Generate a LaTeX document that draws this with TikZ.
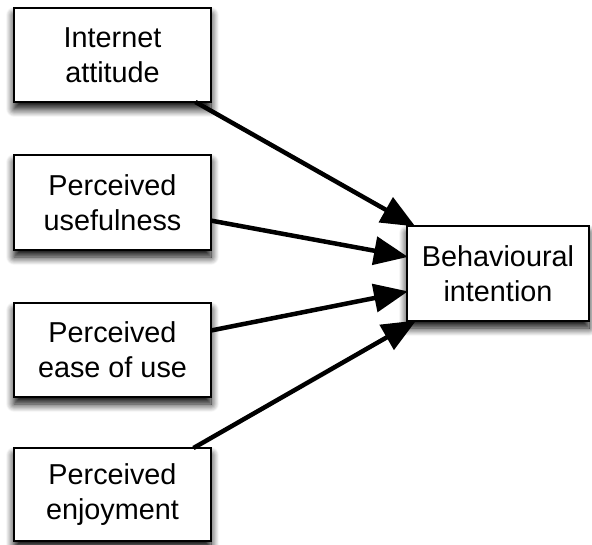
\documentclass[tikz,border=0pt]{standalone}
\usepackage{fontspec}
\setmainfont{Liberation Sans}
\usetikzlibrary{arrows.meta,shadows.blur}

\begin{document}
\begin{tikzpicture}[x=1pt,y=-1pt,
  factor/.style={draw=black, line width=1.6pt, fill=white, align=center,
    inner sep=0pt, outer sep=0pt,
    font=\fontsize{28.8}{35}\selectfont,
    blur shadow={shadow xshift=0pt, shadow yshift=-7pt,
      shadow blur radius=8pt, shadow opacity=100, shadow blur steps=14}},
  link/.style={line width=4.5pt, -{Triangle[length=34pt,width=28pt]}, shorten >=-1pt}]
  \useasboundingbox (0,0) rectangle (592,545);

  % predictor boxes on the left
  \node[factor, minimum width=197pt, minimum height=94pt] (att) at (112.5,55) {Internet\\attitude};
  \node[factor, minimum width=197pt, minimum height=95pt] (use) at (112.5,202.5) {Perceived\\usefulness};
  \node[factor, minimum width=197pt, minimum height=94pt] (ease) at (112.5,350) {Perceived\\ease of use};
  \node[factor, minimum width=197pt, minimum height=93pt] (enj) at (112.5,494.5) {Perceived\\enjoyment};

  % outcome box on the right
  \node[factor, minimum width=182pt, minimum height=95pt] (bi) at (498,273.5) {Behavioural\\intention};

  % effects
  \draw[link] (att) -- (bi);
  \draw[link] (use) -- (bi);
  \draw[link] (ease) -- (bi);
  \draw[link] (enj) -- (bi);
\end{tikzpicture}
\end{document}
